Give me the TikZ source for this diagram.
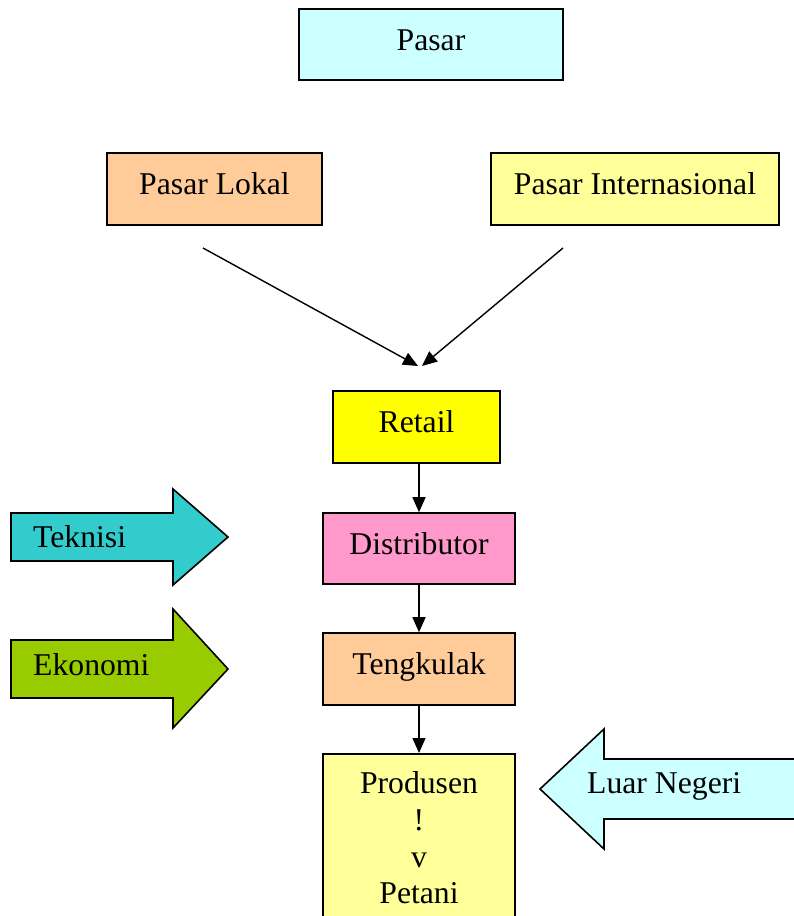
\documentclass[tikz,border=0pt]{standalone}
\usepackage{fontspec}
\setmainfont{Liberation Serif}
\usetikzlibrary{arrows.meta}
\definecolor{cPasar}{HTML}{CCFFFF}
\definecolor{cLokal}{HTML}{FFCC99}
\definecolor{cIntl}{HTML}{FFFF99}
\definecolor{cRetail}{HTML}{FFFF00}
\definecolor{cDist}{HTML}{FF99CC}
\definecolor{cTeknisi}{HTML}{33CCCC}
\definecolor{cEkonomi}{HTML}{99CC00}
\tikzset{
  txt/.style={font=\fontsize{31.7}{36.7}\selectfont, inner sep=0pt},
  box/.style={txt, draw, line width=1.6pt, rectangle, text height=22pt, text depth=11pt},
  conn/.style={line width=1.4pt, -{Triangle[length=15pt,width=13pt]}},
  blockarrow/.style={draw, line width=1.6pt, line join=miter}
}
\begin{document}
\begin{tikzpicture}[x=1pt,y=-1pt]
\clip (0,0) rectangle (794,916);
\fill[white] (0,0) rectangle (794,916);
% boxes
\node[box, fill=cPasar, minimum width=264, minimum height=71] (pasar) at (431,44.5) {Pasar};
\node[box, fill=cLokal, minimum width=215, minimum height=72] (lokal) at (214.5,189) {Pasar Lokal};
\node[box, fill=cIntl, minimum width=288, minimum height=72] (intl) at (635,189) {Pasar Internasional};
\node[box, fill=cRetail, minimum width=167, minimum height=72] (retail) at (416.5,427) {Retail};
\node[box, fill=cDist, minimum width=192, minimum height=71] (dist) at (419,548.5) {Distributor};
\node[box, fill=cLokal, minimum width=192, minimum height=72] (tengk) at (419,669) {Tengkulak};
\node[box, fill=cIntl, minimum width=192, minimum height=220, anchor=north] (prod) at (419,753) {};
\node[txt, align=center, anchor=north] (prodtext) at (419,771.5) {Produsen\\!\\v\\Petani};
% connectors
\coordinate (lokalOut) at (203,248);
\coordinate (intlOut) at (563,248);
\coordinate (retailInL) at (418,366);
\coordinate (retailInR) at (422,366);
\draw[conn] (lokalOut) -- (retailInL);
\draw[conn] (intlOut) -- (retailInR);
\draw[conn] (dist.north |- retail.south) -- (dist.north);
\draw[conn] (dist.south) -- (tengk.north);
\draw[conn] (tengk.south) -- (prod.north);
% block arrows
\draw[blockarrow, fill=cTeknisi] (11,513) -- (173,513) -- (173,489) -- (228,537) -- (173,585) -- (173,561) -- (11,561) -- cycle;
\node[txt, anchor=west] (teknisi) at (33,537) {Teknisi};
\draw[blockarrow, fill=cEkonomi] (11,640) -- (173,640) -- (173,609) -- (228,669) -- (173,728) -- (173,698) -- (11,698) -- cycle;
\node[txt, anchor=west] (ekonomi) at (33,665) {Ekonomi};
\draw[blockarrow, fill=cPasar] (810,759) -- (604,759) -- (604,729) -- (540,789) -- (604,849) -- (604,819) -- (810,819) -- cycle;
\node[txt, anchor=west] (luar) at (587,786) {Luar Negeri};
\end{tikzpicture}
\end{document}
